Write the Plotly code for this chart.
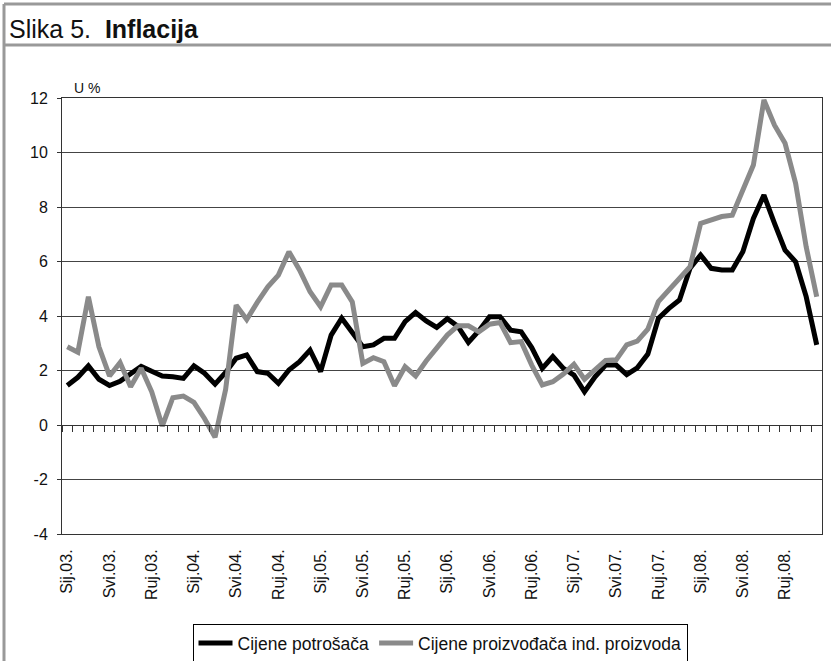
import plotly.graph_objects as go

months = ["Sij", "Velj", "Ožu", "Tra", "Svi", "Lip", "Srp", "Kol", "Ruj", "Lis", "Stu", "Pro"]
years = ["03", "04", "05", "06", "07", "08"]
categories = [f"{m}.{y}." for y in years for m in months]

cpi = [1.45, 1.75, 2.17, 1.68, 1.45, 1.60, 1.88, 2.15, 1.97, 1.80, 1.77, 1.71,
       2.17, 1.90, 1.50, 1.93, 2.45, 2.57, 1.96, 1.90, 1.53, 2.02, 2.32, 2.75,
       1.96, 3.30, 3.92, 3.42, 2.87, 2.94, 3.18, 3.18, 3.79, 4.13, 3.82, 3.58,
       3.90, 3.62, 3.03, 3.46, 3.97, 3.97, 3.48, 3.42, 2.84, 2.08, 2.51, 2.08,
       1.83, 1.22, 1.77, 2.20, 2.20, 1.85, 2.10, 2.60, 3.91, 4.28, 4.59, 5.75,
       6.24, 5.75, 5.69, 5.69, 6.36, 7.58, 8.44, 7.40, 6.42, 5.99, 4.71, 2.94]

ppi = [2.87, 2.67, 4.71, 2.87, 1.80, 2.29, 1.40, 2.08, 1.22, -0.04, 1.00, 1.06,
       0.83, 0.24, -0.45, 1.30, 4.40, 3.87, 4.50, 5.07, 5.50, 6.36, 5.69, 4.89,
       4.34, 5.14, 5.14, 4.52, 2.26, 2.47, 2.32, 1.44, 2.14, 1.80, 2.35, 2.85,
       3.30, 3.64, 3.64, 3.42, 3.70, 3.76, 3.02, 3.06, 2.20, 1.47, 1.59, 1.87,
       2.23, 1.68, 2.05, 2.37, 2.39, 2.94, 3.08, 3.52, 4.53, 4.95, 5.38, 5.81,
       7.40, 7.52, 7.65, 7.70, 8.62, 9.54, 11.93, 11.00, 10.34, 8.87, 6.54, 4.71]

y_ticks = [-4, -2, 0, 2, 4, 6, 8, 10, 12]
y_ticktext = ["-4", "-2", "0", "2", "4", "6", "8", "10", "12"]
label_cats = categories[::4]

W, H = 831, 661
ML, MR, MT, MB = 62, 9, 98, 127
PW, PH = W - ML - MR, H - MT - MB

def px(x):
    return (x - ML) / PW

def py(y):
    return (H - MB - y) / PH

FONT = "Liberation Sans, Arial, sans-serif"

fig = go.Figure()
fig.add_trace(go.Scatter(x=categories, y=cpi, mode="lines", name="Cijene potrošača",
                         line=dict(color="#000000", width=5)))
fig.add_trace(go.Scatter(x=categories, y=ppi, mode="lines", name="Cijene proizvođača ind. proizvoda",
                         line=dict(color="#8a8a8a", width=5)))
# helper trace carrying the zero-line category ticks
fig.add_trace(go.Scatter(x=categories, y=cpi, xaxis="x2", mode="lines", opacity=0,
                         showlegend=False, hoverinfo="skip", line=dict(width=0)))

fig.update_layout(
    width=W, height=H,
    margin=dict(l=ML, r=MR, t=MT, b=MB, autoexpand=False),
    paper_bgcolor="white", plot_bgcolor="white",
    font=dict(family=FONT, size=14, color="#111"),
    xaxis=dict(type="category", categoryorder="array", categoryarray=categories,
               range=[-0.5, len(categories) - 0.5],
               tickmode="array", tickvals=label_cats, ticktext=label_cats,
               tickangle=-90, ticks="", showgrid=False,
               showline=True, linecolor="#333", linewidth=1, mirror=True,
               tickfont=dict(size=16), ticklabelstandoff=8),
    xaxis2=dict(type="category", overlaying="x", anchor="free", position=0.25,
                categoryorder="array", categoryarray=categories,
                range=[-0.5, len(categories) - 0.5],
                tickmode="linear", tick0=0, dtick=1, tickson="boundaries",
                ticks="outside", ticklen=6, tickcolor="#333", tickwidth=1,
                showticklabels=False, showgrid=False, showline=True,
                linecolor="#333", linewidth=1, side="bottom"),
    yaxis=dict(range=[-4, 12], tickmode="array", tickvals=y_ticks, ticktext=y_ticktext,
               showgrid=True, gridcolor="#444", gridwidth=1,
               zeroline=False, showline=True, linecolor="#333", linewidth=1,
               mirror=True, ticks="outside", ticklen=4, tickcolor="#333",
               tickfont=dict(size=16), ticklabelstandoff=6),
    legend=dict(orientation="h", x=px(440), y=py(624), xanchor="center", yanchor="top",
                bordercolor="#000", borderwidth=1, font=dict(size=17.5),
                itemwidth=34, bgcolor="white"),
    showlegend=True,
)

fig.add_annotation(text="U %", xref="paper", yref="paper", x=px(72), y=py(88),
                   xanchor="left", yanchor="middle", showarrow=False, font=dict(size=14))
fig.add_annotation(text="Slika 5.&nbsp; <b>Inflacija</b>", xref="paper", yref="paper",
                   x=px(7), y=py(29), xanchor="left", yanchor="middle", showarrow=False,
                   font=dict(size=25, family="Liberation Sans Narrow, Liberation Sans, Arial, sans-serif"))

frame = dict(color="#999999", width=3)
fig.add_shape(type="line", xref="paper", yref="paper", x0=px(4), x1=px(840), y0=py(4), y1=py(4), line=frame)
fig.add_shape(type="line", xref="paper", yref="paper", x0=px(4), x1=px(840), y0=py(45), y1=py(45), line=frame)
fig.add_shape(type="line", xref="paper", yref="paper", x0=px(4), x1=px(4), y0=py(4), y1=py(670), line=frame)

fig.write_html("out.html", config={"displayModeBar": False},
               post_script="document.body.style.margin='0';document.body.style.overflow='hidden';")
